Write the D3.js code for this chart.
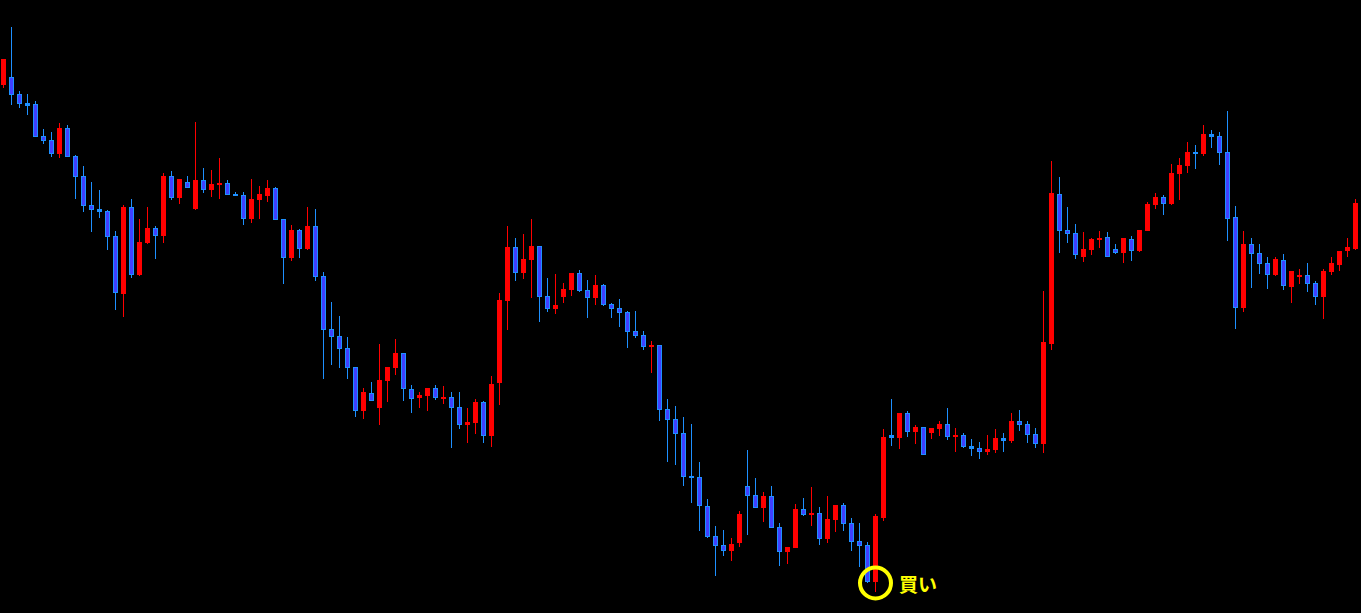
<!DOCTYPE html>
<html>
<head>
<meta charset="utf-8">
<script src="https://cdn.jsdelivr.net/npm/d3@7"></script>
<style>
  html, body { margin: 0; padding: 0; background: #000; overflow: hidden; }
  svg { display: block; }
</style>
</head>
<body>
<svg id="chart" width="1361" height="613"></svg>
<script>
// OHLC values (price units), one entry per bar
const opens = [515,522.7,505.7,496.7,495.7,463.7,459.7,446.3,471.7,443.7,423.7,394.7,390.7,388.7,363.7,306,392.7,325,357,371.7,364,424,402.3,418,391,419.7,410.3,415,416.7,406,404.7,381.3,400,404,411.7,380.7,342.3,369.7,351,373.7,323.7,270.7,263.7,251.7,232.7,189.3,206.7,192.3,219.3,232.3,246.7,210.7,202.3,204.3,211.7,202.3,202.7,193,175.3,177.3,198,164.3,217,299.3,353,327.3,340.3,354,304,291.3,303,310.3,327,310,302.3,315,296,292,288,269,265,253.3,255,191,180.7,166.7,124,123,94,64,55,49.3,57.3,114,105,92.3,104,73,48.3,52.3,91,85.3,87,61.3,80.3,95,77,59,55,18.3,82.3,164.7,162.5,186.7,168.3,172.7,167.3,171.3,176,162.7,165,154,151.7,148.3,150.3,162,159.3,179,176,166,156.3,256.3,406,370,367,343.3,350.3,361.3,363,350.7,347.3,361,349.3,369.3,395.3,403,396.3,426.3,434.3,448,446.3,466,464,448,383,292.3,356,347,337,325.3,340,313.3,323.3,325,317,303.3,328.3,335.3,349.3,351];
const highs = [541,573.3,509,506,499,471,468,477,474.7,445,434,418,410,390,369,394.7,401,381,393,374,427,429,421,424,478,432,430,442,420,408,408,421,414,420,413,380.7,375,371,393,391,328,298,284,263,232.7,212,218,256.3,233,261,246.7,215,208,211.7,215,214,208,208,192,201,199,224,307,374,362,366,381,354,322,326,317,327,330,320,325,316,297,301,289,289,269,259,255,201,194,183,176,138,101,74,70,62,89,150,122,108,114,77,53,96,102,113,93,104,95,97,82,77,58,86,171,201,187,189,174.7,172.7,172,179,192,172,167,161,158,165,171,167,187,190,179,172,309,439,423,393,376,368,362,369,368,356,362,364,370,398,407,405,436,442,458,455,475,470,468,489,394,369,362,356,343.3,343,346,329,331,337,319,331.3,343,349,362,401];
const lows = [512.3,495,492.3,485,463.3,456,443.3,442.3,443.3,401,388.3,368,382,350,290,283.3,322.3,324,356,341,357.3,400,396,412.3,390.3,407.3,403,401,405.3,404.3,375.3,377,381,398,380.3,316.3,339.3,342.3,350,319.3,221.3,235,232.3,221.3,183.3,181.3,198.7,175.3,198.3,225.3,199.3,187.3,192.3,189.3,200.3,196,152.3,171.3,157.3,166.3,157.3,153.3,195,270.3,319.3,321.3,302.3,278.3,288.3,286.3,297.3,304.3,308.3,282.3,295.3,294.3,282.3,273.3,252.3,262.3,250.3,227.3,179.3,138,135.3,114.3,97.3,69,62.3,24.3,44,39.3,53.3,65.3,92.3,78.3,72.3,34.3,36.3,52.3,84.3,74.3,55.3,57.3,68.3,69,49.3,33.3,17.3,8.3,79.3,154.3,151.3,163.3,156.3,145.3,161.3,164.3,160.3,148.3,152.3,144.3,141.3,145.3,147.3,148.3,157.3,169.3,157.3,152.3,147.3,250,347.3,357.3,341.3,338.3,345.3,352.3,343.3,346.3,337.3,339.3,348.3,369.3,391.3,385.3,395.3,400.3,427.3,431.3,444.3,452.3,435.3,359.3,271.3,288.3,312.3,326.3,311.3,324.3,310.3,297.3,316.3,308.3,295.3,281.3,325.3,329.3,343.3,350.3];
const closes = [541,505.3,496.3,494.3,463.3,459.3,446.3,472,443.3,423.3,394.3,390.3,388.3,363.3,307.3,392.7,325,358,372,364.3,424,402.3,421,412.3,420,410.3,416,417,405.3,404.3,381.3,401,406,412,380.3,342.3,370,351.3,374,323.3,270.3,263.3,251.3,232.3,189.3,208,198.7,220,233,247,210.7,201.3,204.7,211.7,202.3,203,192.3,175.3,178,198,164.3,216,300,353,327.3,341,354,303.3,291.3,295,311,327,309.3,302.3,315,295,291.3,287.3,268.3,264.3,253.3,255,190.3,180.3,166.3,123.3,122.3,94.3,63.3,54.3,49.3,56,86,104.3,92.3,104,72.3,48.3,53,91,85.3,87,61.3,81,95,76.3,58.3,54.3,18.3,84,163,162.5,187,168.3,173,145.3,172,176,162.7,164.7,153.3,151.3,148.3,151,162,159.3,179,175.3,165.3,156.3,258,407,369.3,366.3,345.3,351,361,362,343.3,347.3,362,349.3,370,396,403,396.3,427,435,448,446.3,466,463.3,447.3,381.3,292.3,356,346.3,336.3,325.3,341,314.3,329,325,316.3,303.3,329,337,349,353,397];

// Signal annotation
const signalIndex = 109;
const signalLabel = "買い";

const data = opens.map((o, i) => ({ i, o, h: highs[i], l: lows[i], c: closes[i] }));

const svg = d3.select("#chart");
svg.append("rect").attr("width", 1361).attr("height", 613).attr("fill", "#000");

const x = d3.scaleLinear().domain([0, data.length - 1]).range([3, 1355]);
const y = d3.scaleLinear()
  .domain([d3.min(lows), d3.max(highs)])
  .range([591.7, 26.7]);

const UP = "#ff0000", DOWN_FILL = "#4040ff", DOWN_LINE = "#1e90ff";

const g = svg.append("g");
const candle = g.selectAll("g.c").data(data).join("g").attr("class", "c");

// wicks
candle.append("line")
  .attr("x1", d => Math.round(x(d.i)) + 0.5)
  .attr("x2", d => Math.round(x(d.i)) + 0.5)
  .attr("y1", d => y(d.h))
  .attr("y2", d => y(d.l))
  .attr("stroke", d => d.c >= d.o ? UP : DOWN_LINE)
  .attr("stroke-width", 1)
  .attr("shape-rendering", "crispEdges");

// bodies
candle.each(function(d) {
  const sel = d3.select(this);
  const cx = Math.round(x(d.i));
  const top = Math.round(y(Math.max(d.o, d.c)));
  const bot = Math.round(y(Math.min(d.o, d.c)));
  const h = Math.max(1, bot - top);
  if (d.c >= d.o) {
    sel.append("rect")
      .attr("x", cx - 2).attr("y", top).attr("width", 5).attr("height", Math.max(2, h))
      .attr("fill", UP).attr("shape-rendering", "crispEdges");
  } else {
    if (h <= 3) {
      sel.append("rect")
        .attr("x", cx - 2).attr("y", top).attr("width", 5).attr("height", Math.max(2, h))
        .attr("fill", DOWN_LINE).attr("shape-rendering", "crispEdges");
    } else {
      sel.append("rect")
        .attr("x", cx - 2).attr("y", top).attr("width", 5).attr("height", h)
        .attr("fill", DOWN_LINE).attr("shape-rendering", "crispEdges");
      sel.append("rect")
        .attr("x", cx - 1).attr("y", top + 1).attr("width", 3).attr("height", h - 2)
        .attr("fill", DOWN_FILL).attr("shape-rendering", "crispEdges");
    }
  }
});

// signal marker
const sd = data[signalIndex];
const scx = Math.round(x(sd.i)) + 0.5;
const scy = y(sd.l) - 8.7;
svg.append("circle")
  .attr("cx", scx).attr("cy", scy).attr("r", 15.5)
  .attr("fill", "none").attr("stroke", "#ffff00").attr("stroke-width", 4);
svg.append("text")
  .attr("x", scx + 23.5).attr("y", scy + 8.5)
  .attr("fill", "#ffff00")
  .attr("font-family", "'Noto Sans CJK JP', 'Noto Sans', sans-serif")
  .attr("font-weight", "bold")
  .attr("font-size", 19)
  .text(signalLabel);
</script>
</body>
</html>
